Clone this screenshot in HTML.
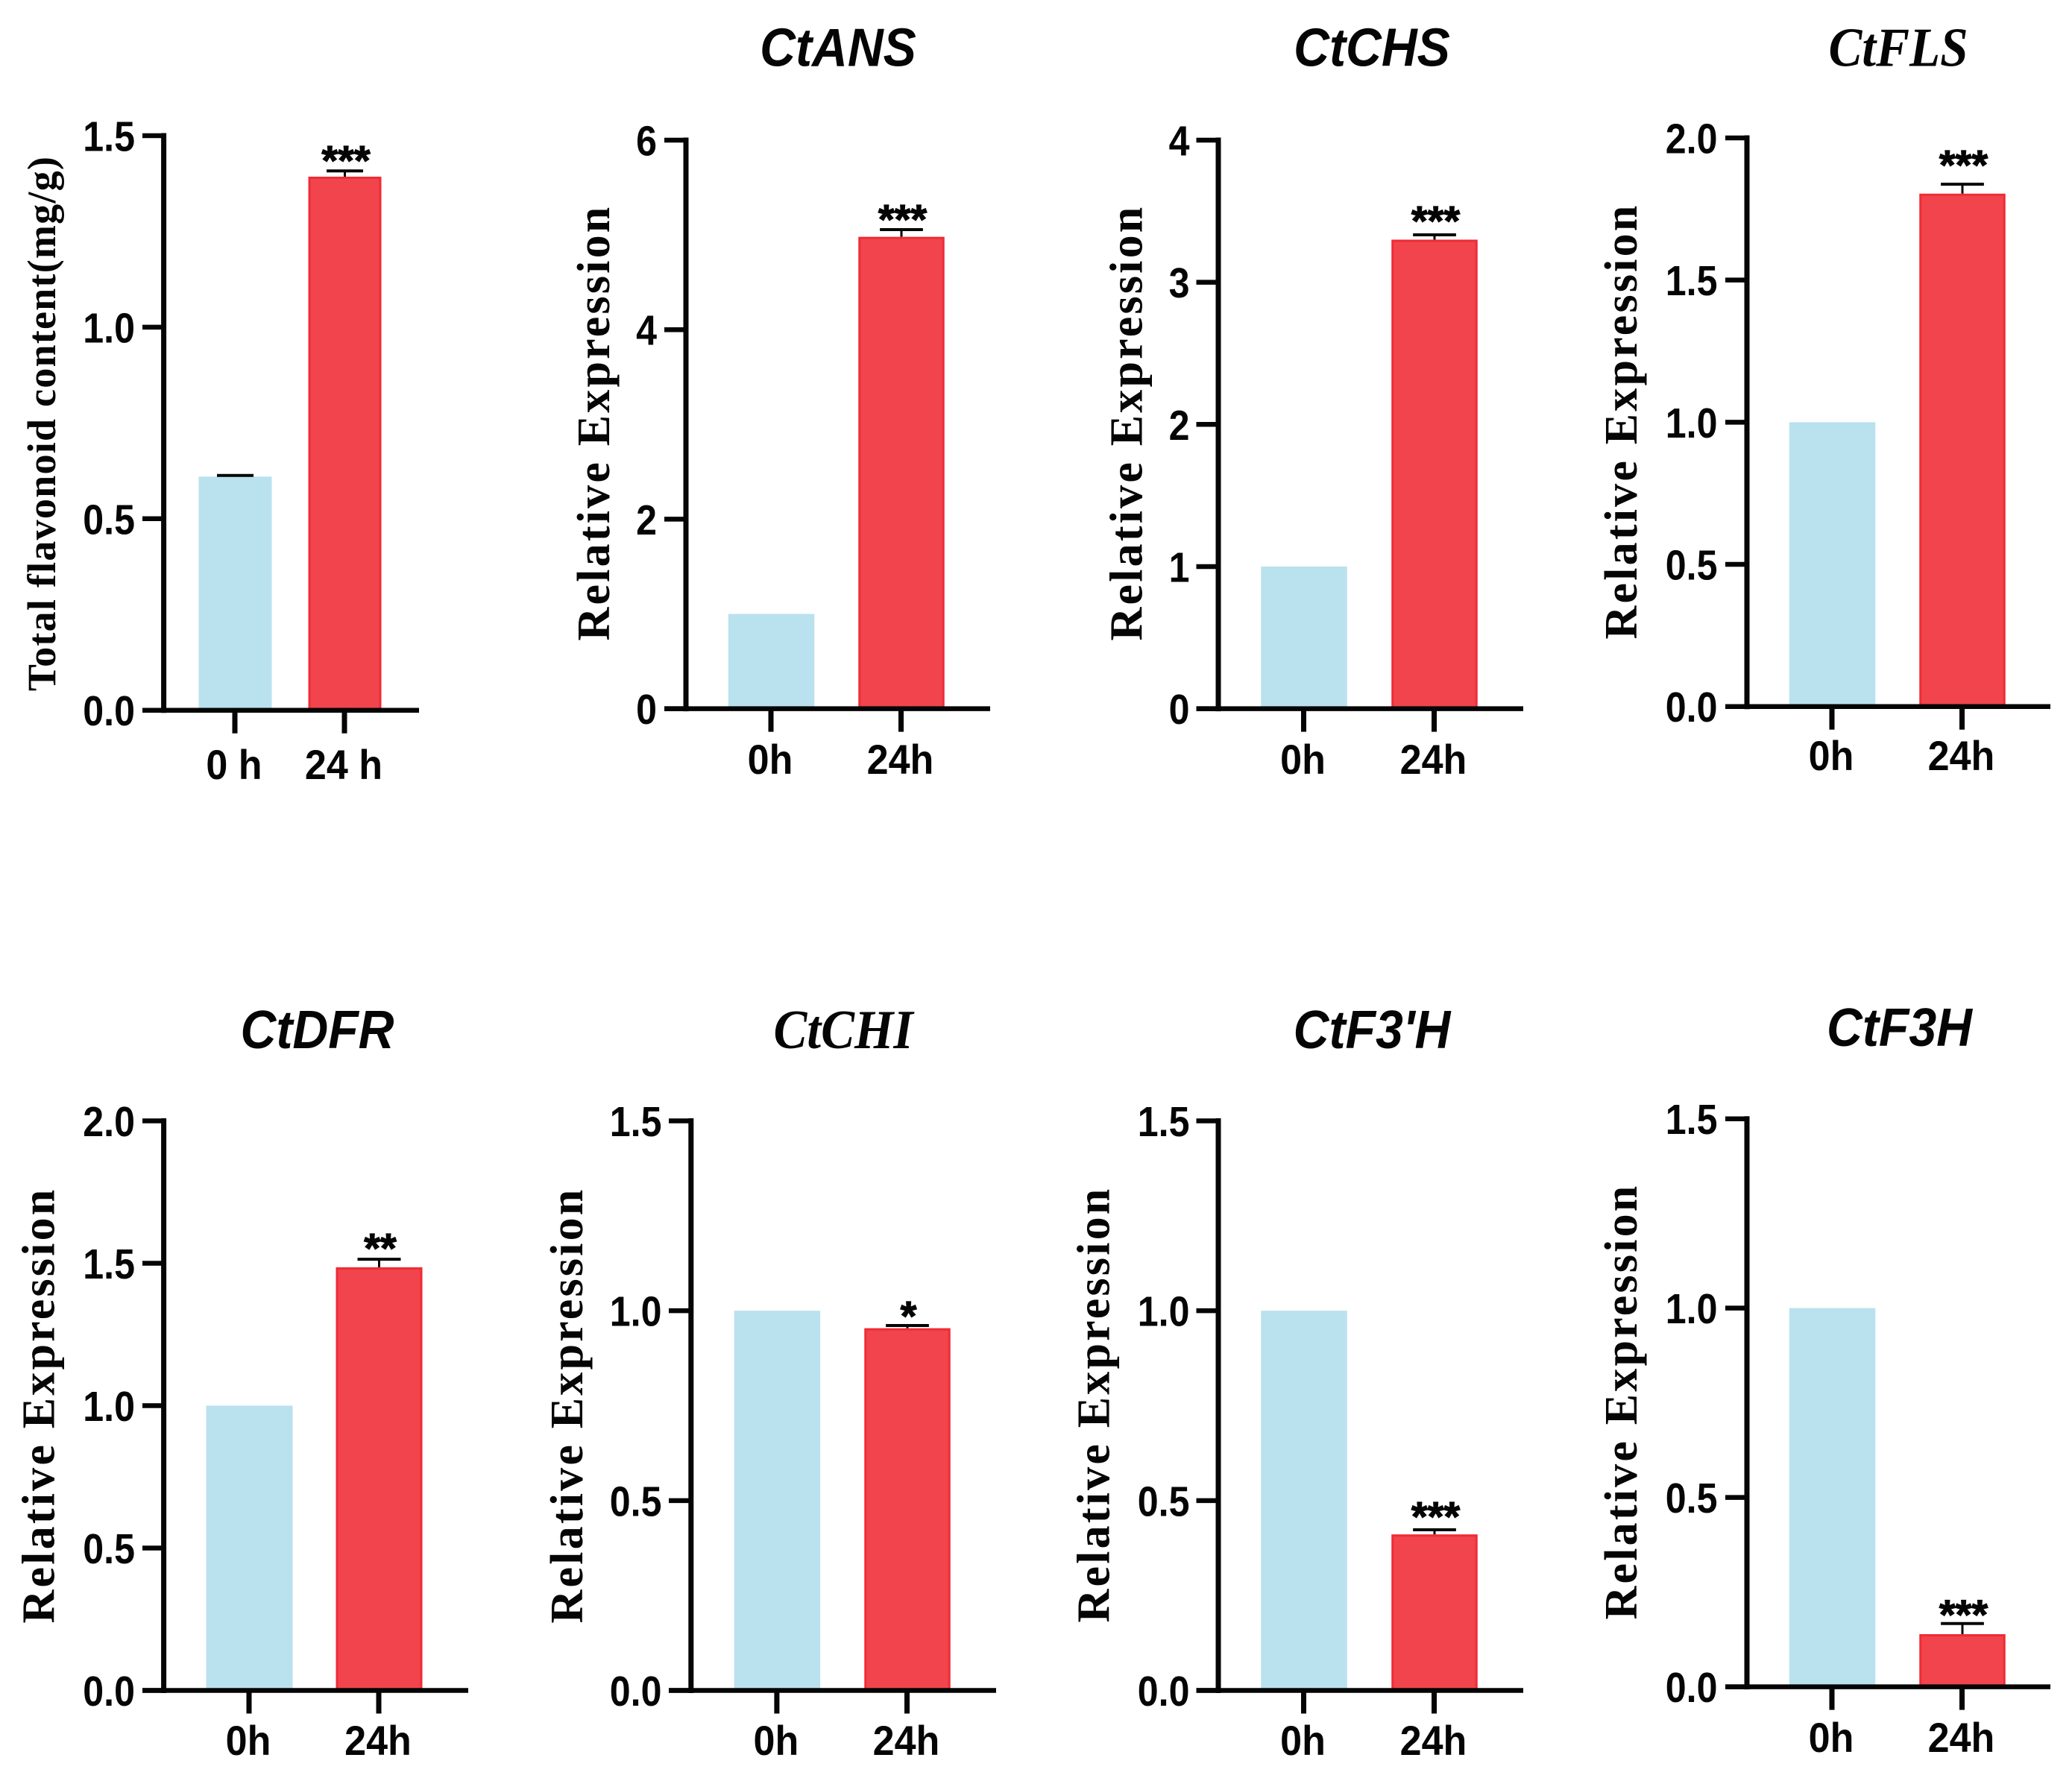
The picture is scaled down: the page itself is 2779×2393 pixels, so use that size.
<!DOCTYPE html>
<html lang="en">
<head>
<meta charset="utf-8">
<title>Flavonoid content and gene expression at 0 h and 24 h</title>
<style>
  html, body { margin: 0; padding: 0; background: #ffffff; }
  svg { display: block; }
</style>
</head>
<body>
<svg id="figure" xmlns="http://www.w3.org/2000/svg" width="2779" height="2393" viewBox="0 0 2779 2393">
  <rect x="0" y="0" width="2779" height="2393" fill="#ffffff"/>
</svg>
<script>
// ---- chart data ----
const panelTitles = ["", "CtANS", "CtCHS", "CtFLS", "CtDFR", "CtCHI", "CtF3'H", "CtF3H"];
const yAxisTitles = ["Total flavonoid content(mg/g)", "Relative Expression", "Relative Expression", "Relative Expression", "Relative Expression", "Relative Expression", "Relative Expression", "Relative Expression"];
const xCategories = [["0 h", "24 h"], ["0h", "24h"], ["0h", "24h"], ["0h", "24h"], ["0h", "24h"], ["0h", "24h"], ["0h", "24h"], ["0h", "24h"]];
const values0h = [0.61, 1, 1, 1, 1, 1, 1, 1];
const values24h = [1.393, 4.98, 3.30, 1.804, 1.486, 0.954, 0.411, 0.139];
const errors0h = [0.003, 0, 0, 0, 0, 0, 0, 0];
const errors24h = [0.015, 0.076, 0.034, 0.033, 0.028, 0.007, 0.012, 0.028];
const significance = ["***", "***", "***", "***", "**", "*", "***", "***"];
const yTickLabels = [
  ["0.0", "0.5", "1.0", "1.5"],
  ["0", "2", "4", "6"],
  ["0", "1", "2", "3", "4"],
  ["0.0", "0.5", "1.0", "1.5", "2.0"],
  ["0.0", "0.5", "1.0", "1.5", "2.0"],
  ["0.0", "0.5", "1.0", "1.5"],
  ["0.0", "0.5", "1.0", "1.5"],
  ["0.0", "0.5", "1.0", "1.5"]
];

// ---- layout of each panel on the page (geometry only, no data) ----
const panelFrames = [
  { axisX: 219.6, tickLeft: 191,    top: 182,    y0: 952.7,  right: 562,  x0: 315.5,  dx: 147,   barW: 98,  labelRight: 181,    xLabelY: 1045,   titleX: 0,      titleY: 0,    titleSerif: false, yTitleX: 74,     yTitleY: 568,  yTitleSize: 54, yTitleSpacing: 1.25, starGap: 12 },
  { axisX: 920,   tickLeft: 891,    top: 188,    y0: 950.6,  right: 1328, x0: 1034.5, dx: 174.5, barW: 115.5, labelRight: 881,  xLabelY: 1038,   titleX: 1124,   titleY: 88.5, titleSerif: false, yTitleX: 817,    yTitleY: 567,  yTitleSize: 62, yTitleSpacing: 3.2, starGap: 12 },
  { axisX: 1634,  tickLeft: 1604.5, top: 188,    y0: 950.6,  right: 2043, x0: 1749,   dx: 175,   barW: 115.5, labelRight: 1595.5, xLabelY: 1038, titleX: 1840,   titleY: 88.5, titleSerif: false, yTitleX: 1531.6, yTitleY: 567,  yTitleSize: 62, yTitleSpacing: 3.2, starGap: 17 },
  { axisX: 2343,  tickLeft: 2314,   top: 185,    y0: 947.7,  right: 2750, x0: 2457.5, dx: 174.5, barW: 115.5, labelRight: 2303.5, xLabelY: 1033, titleX: 2546,   titleY: 88.5, titleSerif: true,  yTitleX: 2195,   yTitleY: 565,  yTitleSize: 62, yTitleSpacing: 3.2, starGap: 24 },
  { axisX: 219.6, tickLeft: 191,    top: 1503.5, y0: 2267.5, right: 628,  x0: 334.5,  dx: 174,   barW: 116, labelRight: 181,    xLabelY: 2354,   titleX: 425.5,  titleY: 1406, titleSerif: false, yTitleX: 72.7,   yTitleY: 1885, yTitleSize: 62, yTitleSpacing: 3.2, starGap: 13 },
  { axisX: 926.8, tickLeft: 897,    top: 1503.5, y0: 2267.5, right: 1336, x0: 1042.4, dx: 174.6, barW: 115.5, labelRight: 887.5, xLabelY: 2354,  titleX: 1131,   titleY: 1406, titleSerif: true,  yTitleX: 781,    yTitleY: 1885, yTitleSize: 62, yTitleSpacing: 3.2, starGap: 11 },
  { axisX: 1634,  tickLeft: 1604.5, top: 1503.5, y0: 2267.5, right: 2043, x0: 1749,   dx: 175,   barW: 115.5, labelRight: 1595.5, xLabelY: 2354, titleX: 1840,   titleY: 1406, titleSerif: false, yTitleX: 1487.4, yTitleY: 1884, yTitleSize: 62, yTitleSpacing: 3.2, starGap: 16 },
  { axisX: 2343,  tickLeft: 2314,   top: 1500.7, y0: 2262.6, right: 2750, x0: 2457.5, dx: 174.5, barW: 115.5, labelRight: 2303.5, xLabelY: 2350, titleX: 2547.5, titleY: 1403, titleSerif: false, yTitleX: 2195,   yTitleY: 1880, yTitleSize: 62, yTitleSpacing: 3.2, starGap: 10 }
];

const SVG_NS = "http://www.w3.org/2000/svg";
const SANS = '"Liberation Sans", Arial, sans-serif';
const SERIF = '"Liberation Serif", "Times New Roman", serif';
const BLUE = "#bae1ee";
const RED_FILL = "#f1444c";
const RED_EDGE = "#ee2c36";
const INK = "#050505";
const figure = document.getElementById("figure");

function makeLine(parent, x1, y1, x2, y2, width) {
  const el = document.createElementNS(SVG_NS, "line");
  el.setAttribute("x1", x1);
  el.setAttribute("y1", y1);
  el.setAttribute("x2", x2);
  el.setAttribute("y2", y2);
  el.setAttribute("stroke", INK);
  el.setAttribute("stroke-width", width);
  parent.appendChild(el);
  return el;
}

function makeText(parent, str, x, y, size, family, weight, fontStyle, anchor, sx, rotation) {
  const el = document.createElementNS(SVG_NS, "text");
  el.textContent = str;
  el.setAttribute("transform", "translate(" + x + " " + y + ") rotate(" + rotation + ") scale(" + sx + " 1)");
  el.setAttribute("font-size", size);
  el.setAttribute("font-family", family);
  el.setAttribute("font-weight", weight);
  el.setAttribute("font-style", fontStyle);
  el.setAttribute("text-anchor", anchor);
  el.setAttribute("fill", INK);
  parent.appendChild(el);
  return el;
}

function drawBar(parent, cx, width, yTop, yBase, fill, edge) {
  const el = document.createElementNS(SVG_NS, "rect");
  const inset = edge ? 1.5 : 0;
  el.setAttribute("x", cx - width / 2 + inset);
  el.setAttribute("y", yTop + inset);
  el.setAttribute("width", width - inset * 2);
  el.setAttribute("height", Math.max(0, yBase - yTop - inset));
  el.setAttribute("fill", fill);
  if (edge) {
    el.setAttribute("stroke", edge);
    el.setAttribute("stroke-width", 3);
  }
  parent.appendChild(el);
  return el;
}

panelFrames.forEach(function (frame, p) {
  const name = panelTitles[p] ? panelTitles[p].replace("'", "").toLowerCase() : "total-flavonoid";
  const panel = document.createElementNS(SVG_NS, "g");
  
  
  figure.appendChild(panel);

  const ticks = yTickLabels[p];
  const yMax = parseFloat(ticks[ticks.length - 1]);
  const yScale = function (v) { return frame.y0 - (v / yMax) * (frame.y0 - frame.top); };
  const xScale = function (i) { return frame.x0 + i * frame.dx; };
  const series = [values0h[p], values24h[p]];
  const errors = [errors0h[p], errors24h[p]];

  // bars
  series.forEach(function (value, i) {
    const bar = drawBar(panel, xScale(i), frame.barW, yScale(value), frame.y0, i === 0 ? BLUE : RED_FILL, i === 0 ? null : RED_EDGE);
    
    
  });

  // error bars
  series.forEach(function (value, i) {
    if (errors[i] <= 0) return;
    const yCap = yScale(value + errors[i]);
    const stem = makeLine(panel, xScale(i), yScale(value), xScale(i), yCap, 3);
    
    
    const cap = makeLine(panel, xScale(i) - frame.barW / 4, yCap, xScale(i) + frame.barW / 4, yCap, 4);
    
    
  });

  // significance stars, positioned above the 24 h error cap
  const starSize = 56;
  const starBottom = yScale(values24h[p] + errors24h[p]) - frame.starGap;
  const stars = makeText(panel, significance[p], xScale(1) + 1.5, starBottom + 0.31 * starSize, starSize, SANS, "700", "normal", "middle", 1, 0);
  stars.setAttribute("stroke", INK);
  stars.setAttribute("stroke-width", "1.2");
  
  

  // y axis line
  const yAxis = makeLine(panel, frame.axisX, frame.top - 3.5, frame.axisX, frame.y0 + 3.5, 7);
  
  

  // y ticks and labels
  ticks.forEach(function (label) {
    const y = yScale(parseFloat(label));
    const tick = makeLine(panel, frame.tickLeft, y, frame.axisX, y, 6.5);
    
    
    const text = makeText(panel, label, frame.labelRight, y + 20.5, 57, SANS, "700", "normal", "end", 0.88, 0);
    
    
  });

  // x axis line
  const xAxis = makeLine(panel, frame.tickLeft, frame.y0, frame.right, frame.y0, 6.5);
  
  

  // x ticks and labels
  xCategories[p].forEach(function (label, i) {
    const tick = makeLine(panel, xScale(i) - 0.5, frame.y0, xScale(i) - 0.5, frame.y0 + 31, 7);
    
    
    const text = makeText(panel, label, xScale(i) - 1.5, frame.xLabelY, 56, SANS, "700", "normal", "middle", 0.93, 0);
    
    
  });

  // y axis title
  const yTitle = makeText(panel, yAxisTitles[p], frame.yTitleX, frame.yTitleY, frame.yTitleSize, SERIF, "700", "normal", "middle", 1, -90);
  yTitle.setAttribute("letter-spacing", frame.yTitleSpacing);
  
  

  // panel title
  if (panelTitles[p]) {
    const title = frame.titleSerif
      ? makeText(panel, panelTitles[p], frame.titleX, frame.titleY, 74, SERIF, "700", "italic", "middle", 0.91, 0)
      : makeText(panel, panelTitles[p], frame.titleX, frame.titleY, 72, SANS, "700", "italic", "middle", 0.92, 0);
    
    
  }
});
</script>
</body>
</html>
